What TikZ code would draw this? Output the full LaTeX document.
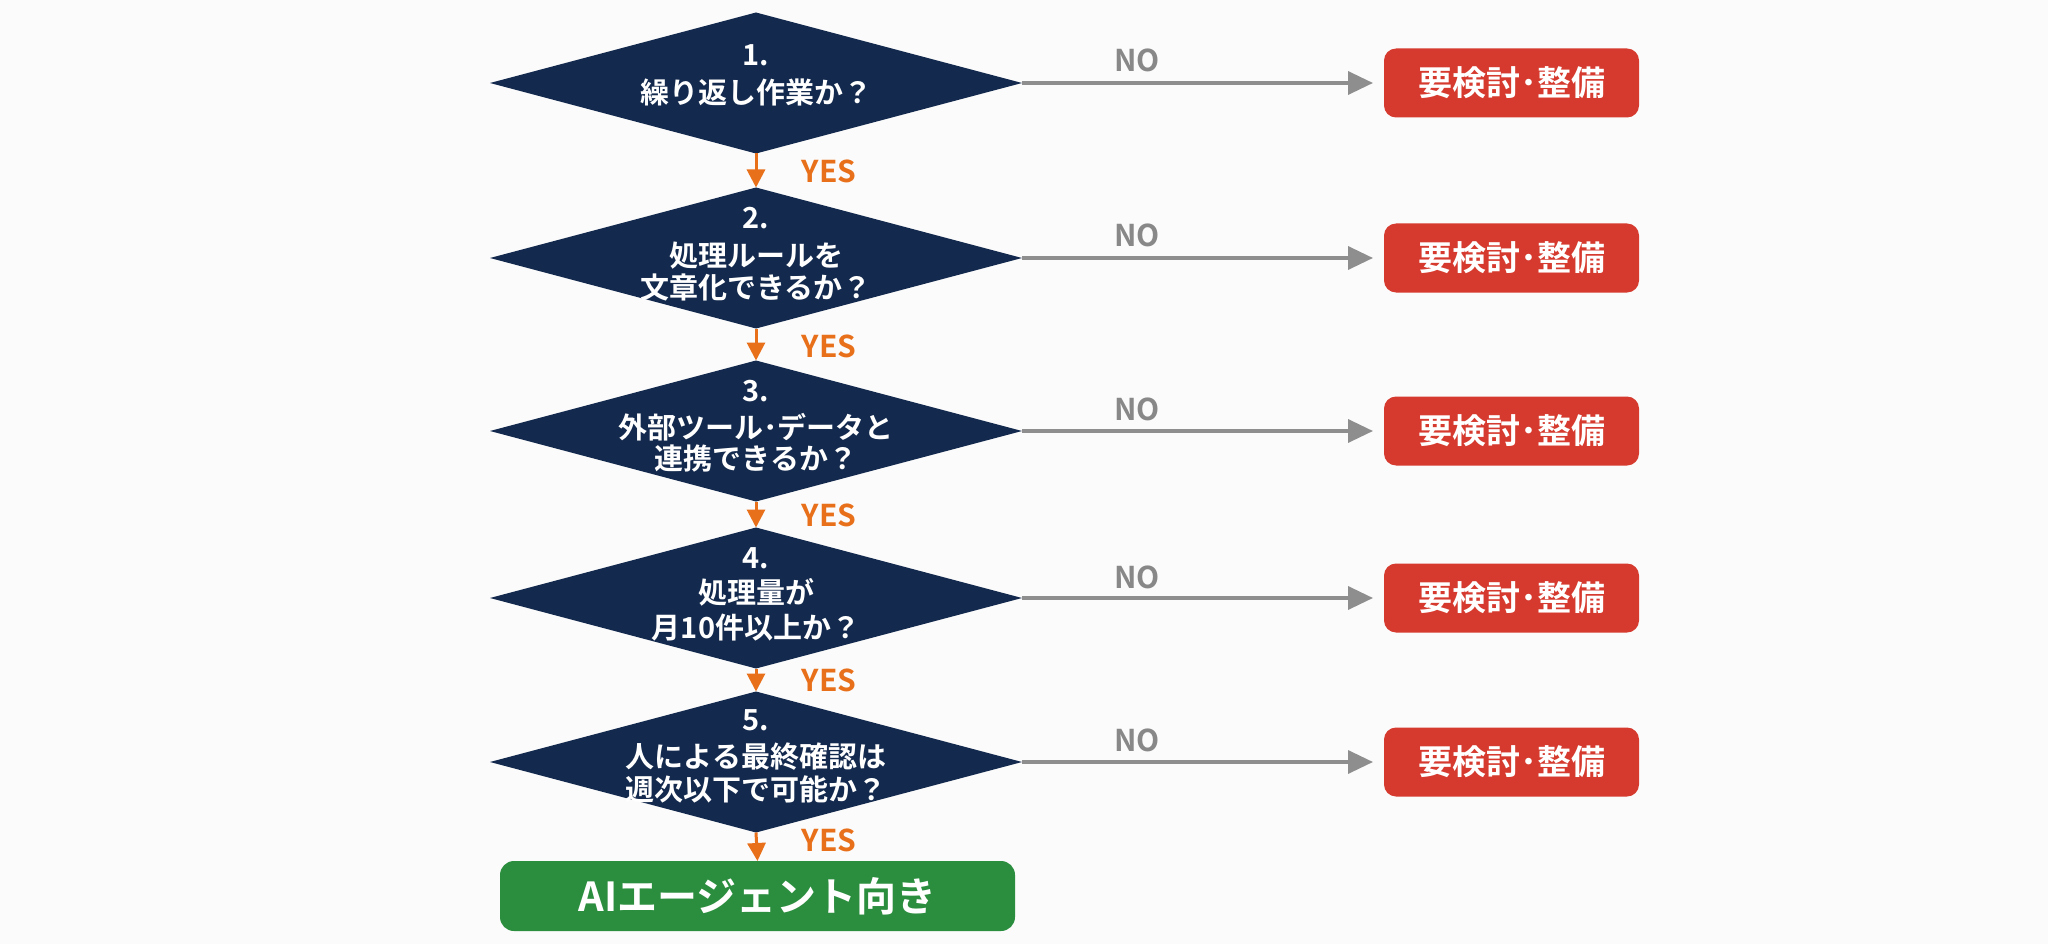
\documentclass[tikz,border=0pt]{standalone}
\usepackage{fontspec}
\setmainfont{Noto Sans CJK JP}[BoldFont={Noto Sans CJK JP Bold}]
\usetikzlibrary{shapes.geometric,arrows.meta}
\definecolor{navy}{HTML}{13294D}
\definecolor{orangec}{HTML}{E8701A}
\definecolor{redc}{HTML}{D63A2E}
\definecolor{greenc}{HTML}{2B8E3E}
\definecolor{grayc}{HTML}{8E8E8E}
\definecolor{nogray}{HTML}{888888}
\definecolor{bgc}{HTML}{FBFBFB}
\begin{document}
\begin{tikzpicture}[x=1pt,y=-1pt,
  dia/.style={shape=diamond,fill=navy,draw=none,minimum width=532pt,minimum height=141pt,inner sep=0pt,outer sep=0pt},
  qtxt/.style={anchor=base,text=white,inner sep=0pt,font=\bfseries\fontsize{29}{34}\selectfont},
  yesarrow/.style={draw=orangec,line width=3pt,-{Triangle[length=18pt,width=18pt]}},
  noarrow/.style={draw=grayc,line width=3.5pt,-{Triangle[length=25pt,width=23pt]},shorten >=11pt},
  yeslbl/.style={anchor=base,text=orangec,inner sep=0pt,font=\bfseries\fontsize{30}{34}\selectfont},
  nolbl/.style={anchor=base,text=nogray,inner sep=0pt,font=\bfseries\fontsize{30}{34}\selectfont},
  redbox/.style={fill=redc,rounded corners=12pt,minimum width=255pt,minimum height=69pt,inner sep=0pt,outer sep=0pt,text=white,font=\bfseries\fontsize{34}{38}\selectfont},
  greenbox/.style={fill=greenc,rounded corners=14pt,minimum width=515pt,minimum height=70pt,inner sep=0pt,outer sep=0pt,text=white,font=\bfseries\fontsize{40}{44}\selectfont}
]
\fill[bgc] (0,0) rectangle (2048,944);
\useasboundingbox (0,0) rectangle (2048,944);

% decision diamonds
\node[dia] (d1) at (756,83) {};
\node[dia] (d2) at (756,258) {};
\node[dia] (d3) at (756,431) {};
\node[dia] (d4) at (756,598) {};
\node[dia] (d5) at (756,762) {};

% diamond texts
\node[qtxt] (d1n) at (756,66) {1.};
\node[qtxt] (d1a) at (756,104) {繰り返し作業か？};
\node[qtxt] (d2n) at (756,229) {2.};
\node[qtxt] (d2a) at (756,266) {処理ルールを};
\node[qtxt] (d2b) at (756,298) {文章化できるか？};
\node[qtxt] (d3n) at (756,401) {3.};
\node[qtxt] (d3a) at (756,438) {外部ツール･データと};
\node[qtxt] (d3b) at (756,469) {連携できるか？};
\node[qtxt] (d4n) at (756,568) {4.};
\node[qtxt] (d4a) at (756,603) {処理量が};
\node[qtxt] (d4b) at (756,638) {月10件以上か？};
\node[qtxt] (d5n) at (756,730) {5.};
\node[qtxt] (d5a) at (756,767) {人による最終確認は};
\node[qtxt] (d5b) at (756,800) {週次以下で可能か？};

% result boxes
\node[redbox] (r1) at (1511.5,83) {要検討･整備};
\node[redbox] (r2) at (1511.5,258) {要検討･整備};
\node[redbox] (r3) at (1511.5,431) {要検討･整備};
\node[redbox] (r4) at (1511.5,598) {要検討･整備};
\node[redbox] (r5) at (1511.5,762) {要検討･整備};
\node[greenbox] (g) at (757.5,896) {AIエージェント向き};

% YES connectors
\draw[yesarrow] (d1.south) -- (d2.north);
\draw[yesarrow] (d2.south) -- (d3.north);
\draw[yesarrow] (d3.south) -- (d4.north);
\draw[yesarrow] (d4.south) -- (d5.north);
\draw[yesarrow] (d5.south) -- (g.north);

% NO connectors
\draw[noarrow] (d1.east) -- (r1.west);
\draw[noarrow] (d2.east) -- (r2.west);
\draw[noarrow] (d3.east) -- (r3.west);
\draw[noarrow] (d4.east) -- (r4.west);
\draw[noarrow] (d5.east) -- (r5.west);

% labels
\node[yeslbl] (y1) at (829,183) {YES};
\node[yeslbl] (y2) at (829,357) {YES};
\node[yeslbl] (y3) at (829,526) {YES};
\node[yeslbl] (y4) at (829,691) {YES};
\node[yeslbl] (y5) at (829,851) {YES};
\node[nolbl] (n1) at (1137,72) {NO};
\node[nolbl] (n2) at (1137,247) {NO};
\node[nolbl] (n3) at (1137,420) {NO};
\node[nolbl] (n4) at (1137,588) {NO};
\node[nolbl] (n5) at (1137,751) {NO};
\end{tikzpicture}
\end{document}
